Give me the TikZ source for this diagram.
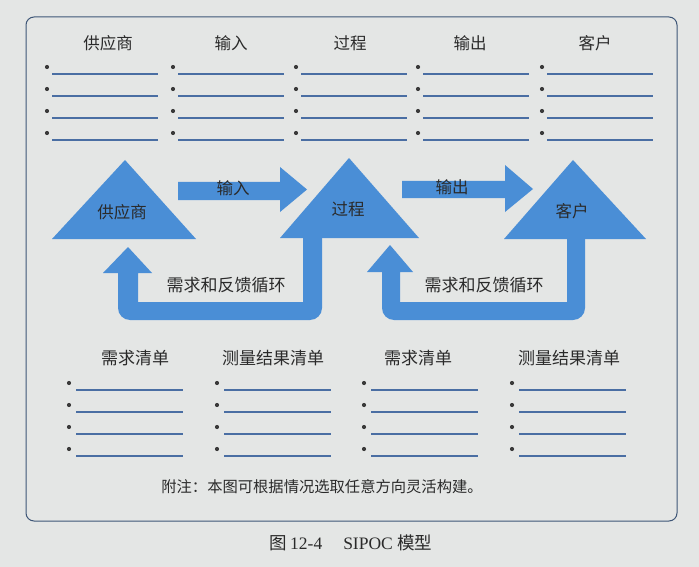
\documentclass[tikz,border=0pt]{standalone}
\usepackage{fontspec}
\setmainfont{Liberation Serif}
\newfontfamily\cjk{Noto Sans CJK SC}
\definecolor{bg}{HTML}{E4E6E5}
\definecolor{sblue}{HTML}{4A8ED6}
\definecolor{lineblue}{HTML}{4A6EA3}
\definecolor{framec}{HTML}{3E5677}
\definecolor{txt}{HTML}{2A2A2A}
\definecolor{dotc}{HTML}{3A3A3A}
\tikzset{
  hdr/.style={font=\cjk\fontsize{16.5}{19}\selectfont, text=txt, inner sep=0pt},
  lbl/.style={font=\cjk\fontsize{17}{20}\selectfont, text=txt, inner sep=0pt},
  notef/.style={font=\cjk\fontsize{15.3}{18}\selectfont, text=txt, inner sep=0pt},
  blueshape/.style={fill=sblue, draw=none},
  bline/.style={draw=lineblue, line width=1.1pt},
  bdot/.style={fill=dotc, circle, inner sep=0pt, minimum size=4.2pt}
}
\begin{document}
\begin{tikzpicture}[x=1pt,y=-1pt]
\useasboundingbox (0,0) rectangle (699,567);
\fill[bg] (0,0) rectangle (699,567);
% frame
\draw[framec, line width=1pt, rounded corners=8pt] (26,17) rectangle (677,521);

% top headers
\node[hdr] (hS) at (108,43) {供应商};
\node[hdr] (hI) at (231,43) {输入};
\node[hdr] (hP) at (350,43) {过程};
\node[hdr] (hO) at (470,43) {输出};
\node[hdr] (hC) at (595,43) {客户};

% top lists
\foreach \cx [count=\c] in {47,173,296,418,542}{
  \foreach \i in {0,1,2,3}{
    \node[bdot] (td\c\i) at (\cx, 67+22*\i) {};
    \coordinate (tla\c\i) at (\cx+5, 74+22*\i);
    \coordinate (tlb\c\i) at (\cx+111, 74+22*\i);
    \draw[bline] (tla\c\i) -- (tlb\c\i);
  }
}

% triangles
\fill[blueshape] (125,160) -- (196,239) -- (52,239) -- cycle;
\fill[blueshape] (349,158) -- (419,238) -- (280,238) -- cycle;
\fill[blueshape] (573,160) -- (646,239) -- (504,239) -- cycle;
\node[hdr] (tS) at (122,212) {供应商};
\node[hdr] (tP) at (348,209) {过程};
\node[hdr] (tC) at (572,211) {客户};

% right arrows
\fill[blueshape] (178,182) -- (280,182) -- (280,167) -- (307,189.5) -- (280,212) -- (280,200) -- (178,200) -- cycle;
\fill[blueshape] (402,181) -- (505,181) -- (505,165) -- (533,189) -- (505,212) -- (505,198) -- (402,198) -- cycle;
\node[hdr] (aI) at (233,188) {输入};
\node[hdr] (aO) at (452,187) {输出};

% feedback loops
\fill[blueshape] (303,232) -- (303,302) -- (138,302) -- (138,273) -- (152,273) -- (128,247) -- (103,273) -- (118,273)
  [rounded corners=12pt] -- (118,320) -- (322,320) [sharp corners] -- (322,232) -- cycle;
\fill[blueshape] (567,232) -- (567,302) -- (400,302) -- (400,272) -- (413,272) -- (390,245) -- (367,272) -- (382,272)
  [rounded corners=12pt] -- (382,320) -- (585,320) [sharp corners] -- (585,232) -- cycle;
\node[lbl] (f1) at (226,285) {需求和反馈循环};
\node[lbl] (f2) at (484,285) {需求和反馈循环};

% bottom headers
\node[lbl] (b1) at (135,358) {需求清单};
\node[lbl] (b2) at (273,358) {测量结果清单};
\node[lbl] (b3) at (418,358) {需求清单};
\node[lbl] (b4) at (569,358) {测量结果清单};

% bottom lists
\foreach \cx [count=\c] in {69,217,364,512}{
  \foreach \i in {0,1,2,3}{
    \node[bdot] (bd\c\i) at (\cx, 383+22*\i) {};
    \coordinate (bla\c\i) at (\cx+7, 390+22*\i);
    \coordinate (blb\c\i) at (\cx+114, 390+22*\i);
    \draw[bline] (bla\c\i) -- (blb\c\i);
  }
}

% note and caption
\node[notef] (note) at (322,487) {附注：本图可根据情况选取任意方向灵活构建。};
\node[font=\fontsize{17.5}{20}\selectfont, text=txt, inner sep=0pt] (cap) at (351,543) {{\cjk 图}\,12-4\hspace{1.2em}SIPOC\ {\cjk 模型}};
\end{tikzpicture}
\end{document}
